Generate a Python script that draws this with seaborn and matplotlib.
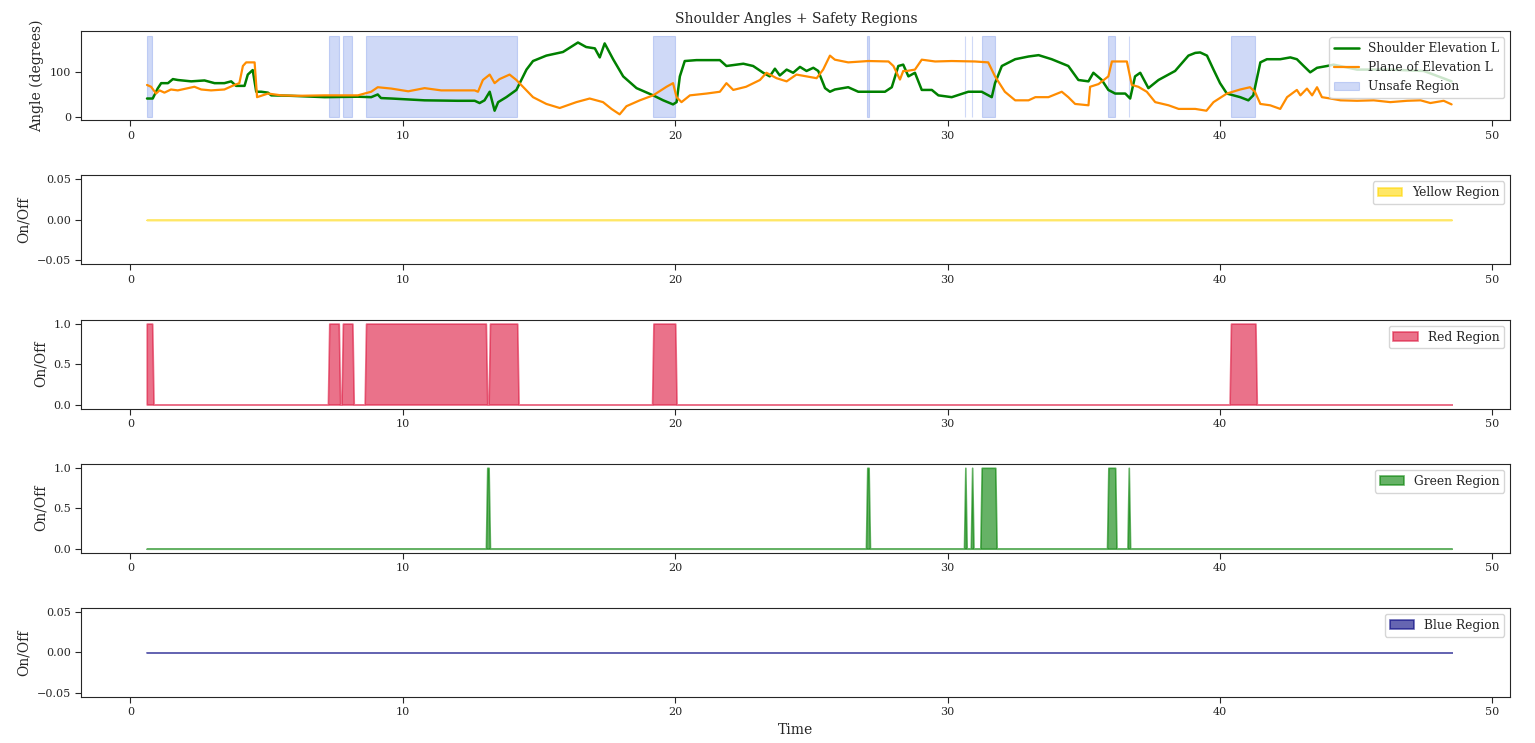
import matplotlib
matplotlib.use("Agg")
import matplotlib.pyplot as plt
import numpy as np
import seaborn as sns
from matplotlib.ticker import MultipleLocator

sns.set_style("ticks")
plt.rcParams.update({
    "font.family": "serif",
    "font.serif": ["DejaVu Serif"],
    "xtick.labelsize": 8,
    "ytick.labelsize": 8,
    "axes.labelsize": 10,
    "axes.titlesize": 10,
    "legend.fontsize": 8.8,
    "xtick.major.size": 4,
    "ytick.major.size": 4,
})

# ── Shoulder angles ──────────────────────────────────────────────────────────
SE_T = [0.61, 0.82, 1.00, 1.13, 1.38, 1.56, 1.74, 2.23, 2.72, 3.09, 3.45, 3.70, 3.88, 4.19,
        4.31, 4.49, 4.62, 4.80, 5.05, 5.17, 5.90, 7.13, 8.35, 8.84, 9.08, 9.20, 9.58, 10.80,
        12.00, 12.64, 12.82, 13.00, 13.19, 13.37, 13.50, 13.80, 14.17, 14.54, 14.78, 15.27,
        15.88, 16.43, 16.73, 17.05, 17.23, 17.41, 17.72, 18.09, 18.58, 19.19, 19.56, 19.92,
        20.05, 20.17, 20.35, 20.78, 21.64, 21.88, 22.50, 22.86, 23.23, 23.47, 23.66, 23.84,
        24.09, 24.33, 24.58, 24.82, 25.07, 25.25, 25.50, 25.68, 25.86, 26.35, 26.72, 27.70,
        27.95, 28.19, 28.37, 28.56, 28.80, 29.05, 29.42, 29.66, 30.15, 30.76, 31.25, 31.62,
        31.74, 31.99, 32.48, 32.97, 33.34, 33.82, 34.43, 34.80, 35.17, 35.35, 35.66, 35.90,
        36.15, 36.52, 36.70, 36.88, 37.07, 37.37, 37.74, 38.35, 38.84, 39.09, 39.27, 39.52,
        39.76, 40.00, 40.25, 40.74, 41.04, 41.22, 41.48, 41.72, 42.21, 42.58, 42.82, 43.07,
        43.31, 43.56, 43.93, 44.17, 45.03, 46.25, 47.48, 48.50]
SE_V = [42, 42, 64, 76, 76, 85, 83, 80, 82, 76, 76, 80, 70, 70,
        95, 105, 57, 57, 55, 49, 48, 45, 46, 45, 51, 43, 42, 38,
        37, 37, 32, 38, 57, 15, 34, 45, 61, 106, 125, 137,
        145, 166, 156, 153, 133, 164, 129, 91, 65, 49, 38, 29,
        34, 91, 125, 127, 127, 114, 119, 114, 99, 91, 108, 93,
        106, 99, 112, 103, 110, 103, 65, 57, 62, 67, 57, 57,
        67, 114, 117, 91, 99, 61, 61, 49, 45, 57, 57, 45,
        76, 114, 129, 135, 138, 129, 114, 83, 80, 99, 83, 61,
        53, 53, 42, 91, 99, 65, 83, 103, 137, 143, 144, 137,
        106, 76, 53, 45, 38, 49, 122, 129, 129, 133, 129, 114,
        100, 110, 114, 117, 106, 106, 103, 80]

PE_T = [0.61, 0.76, 0.94, 1.07, 1.25, 1.49, 1.74, 2.35, 2.60, 2.96, 3.45, 3.82, 4.00, 4.13,
        4.25, 4.56, 4.65, 4.80, 5.05, 5.54, 6.14, 7.13, 8.35, 8.84, 9.08, 9.58, 10.20, 10.80,
        11.41, 12.64, 12.76, 12.94, 13.19, 13.37, 13.55, 13.92, 14.17, 14.41, 14.78, 15.27,
        15.76, 16.37, 16.86, 17.35, 17.66, 17.96, 18.21, 18.70, 19.19, 19.68, 19.92, 20.05,
        20.23, 20.54, 21.15, 21.64, 21.88, 22.13, 22.60, 23.11, 23.35, 23.72, 24.09, 24.45,
        24.82, 25.19, 25.43, 25.68, 25.86, 26.35, 27.09, 27.83, 28.01, 28.25, 28.37, 28.50,
        28.80, 29.05, 29.54, 30.15, 31.00, 31.49, 31.74, 32.10, 32.48, 32.97, 33.22, 33.70,
        34.19, 34.43, 34.68, 35.17, 35.23, 35.54, 35.90, 36.03, 36.58, 36.76, 37.00, 37.31,
        37.62, 38.11, 38.48, 39.09, 39.50, 39.76, 40.25, 40.74, 41.10, 41.28, 41.48, 41.84,
        42.21, 42.46, 42.82, 42.95, 43.19, 43.38, 43.56, 43.74, 44.05, 44.42, 45.03, 45.64,
        46.25, 46.87, 47.36, 47.72, 48.21, 48.50]
PE_V = [72, 68, 53, 60, 55, 62, 60, 68, 62, 60, 62, 72, 76, 114,
        122, 122, 45, 48, 53, 49, 48, 49, 49, 57, 67, 64, 58, 65,
        60, 60, 57, 83, 95, 76, 85, 95, 83, 68, 45, 30,
        21, 34, 42, 34, 19, 7, 25, 38, 49, 68, 76, 45,
        34, 49, 53, 57, 76, 61, 68, 83, 99, 87, 80, 95,
        91, 87, 106, 137, 128, 122, 125, 124, 114, 84, 103, 103,
        106, 128, 124, 125, 124, 122, 91, 57, 38, 38, 45, 45,
        57, 45, 30, 27, 68, 74, 91, 124, 124, 72, 68, 57,
        34, 27, 19, 19, 15, 34, 53, 62, 67, 57, 30, 27,
        19, 45, 61, 49, 64, 49, 67, 45, 42, 38, 37, 38,
        34, 37, 38, 32, 37, 29]

# ── Safety regions: on-intervals (start, end) in seconds ─────────────────────
SAMPLE_DT = 0.05
T_START, T_END = 0.6, 48.5
YELLOW_ON = []
RED_ON = [(0.6, 0.8), (7.3, 7.65), (7.8, 8.15), (8.65, 13.05), (13.2, 14.2),
          (19.2, 20.0), (40.4, 41.3)]
GREEN_ON = [(13.1, 13.15), (27.05, 27.1), (30.65, 30.65), (30.9, 30.9),
            (31.25, 31.75), (35.9, 36.15), (36.65, 36.65)]
BLUE_ON = []


def on_off(t, intervals):
    sig = np.zeros_like(t)
    for s, e in intervals:
        sig[(t >= s - 1e-9) & (t <= e + 1e-9)] = 1.0
    return sig


t = np.round(np.arange(T_START, T_END + 1e-9, SAMPLE_DT), 2)
regions = [
    ("Yellow Region", "gold", on_off(t, YELLOW_ON)),
    ("Red Region", "crimson", on_off(t, RED_ON)),
    ("Green Region", "green", on_off(t, GREEN_ON)),
    ("Blue Region", "navy", on_off(t, BLUE_ON)),
]
unsafe = (regions[1][2] + regions[2][2]) > 0

fig, axes = plt.subplots(5, 1, figsize=(15.35, 7.43), dpi=100)
fig.subplots_adjust(left=0.053, right=0.984, top=0.958, bottom=0.062, hspace=0.62)

ax = axes[0]
sns.lineplot(x=SE_T, y=SE_V, ax=ax, color="green", linewidth=1.8, label="Shoulder Elevation L")
sns.lineplot(x=PE_T, y=PE_V, ax=ax, color="darkorange", linewidth=1.6, label="Plane of Elevation L")
ax.fill_between(t, 0, 180, where=unsafe, color="royalblue", alpha=0.25,
                linewidth=0.8, label="Unsafe Region")
ax.set_title("Shoulder Angles + Safety Regions")
ax.set_ylabel("Angle (degrees)")
ax.set_xlabel("")
ax.set_ylim(-6, 191)
ax.yaxis.set_major_locator(MultipleLocator(100))
ax.legend(loc="upper right")

for ax, (label, color, sig) in zip(axes[1:], regions):
    ax.fill_between(t, 0, sig, color=color, alpha=0.6, edgecolor=color,
                    linewidth=1.2, label=label)
    ax.set_ylabel("On/Off")
    ax.legend(loc="upper right")

for ax in axes:
    ax.set_xlim(-1.8, 50.66)
axes[-1].set_xlabel("Time")

fig.savefig("out.png", dpi=100)
